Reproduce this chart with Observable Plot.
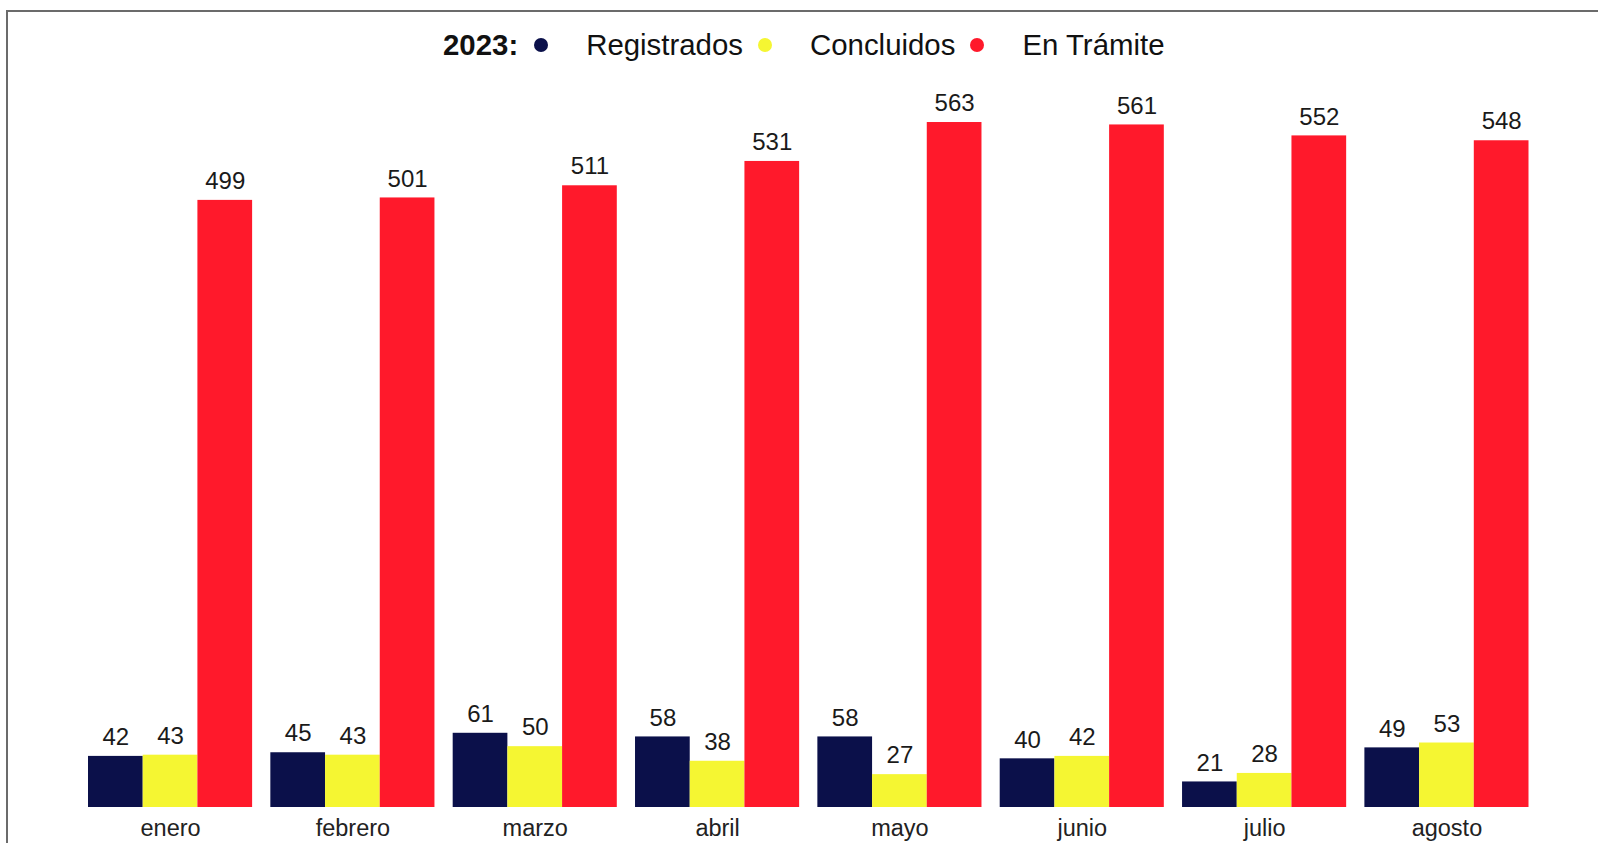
<!DOCTYPE html>
<html>
<head>
<meta charset="utf-8">
<script src="https://cdn.jsdelivr.net/npm/d3@7"></script>
<script src="https://cdn.jsdelivr.net/npm/@observablehq/plot@0.6"></script>
<style>
  html, body { margin: 0; padding: 0; width: 1598px; height: 843px; overflow: hidden; background: #fff; font-family: "Liberation Sans", Arial, sans-serif; }
  #frame { position: absolute; left: 6px; top: 10px; width: 1700px; height: 900px; border: 2px solid #6b6b6b; box-sizing: border-box; }
  #legend { position: absolute; left: 443px; top: 26px; height: 38px; display: flex; align-items: center; font-size: 29.4px; color: #111; white-space: nowrap; }
  #legend .title { font-weight: bold; margin-right: 16px; }
  #legend .dot { width: 14px; height: 14px; border-radius: 50%; display: inline-block; margin-right: 38px; }
  #legend .lab { margin-right: 15px; }
  #chart { position: absolute; left: 0; top: 70px; }
</style>
</head>
<body>
<div id="frame"></div>
<div id="legend"></div>
<div id="chart"></div>
<script>
const year = "2023:";
const months = ["enero", "febrero", "marzo", "abril", "mayo", "junio", "julio", "agosto"];
const series = ["Registrados", "Concluidos", "En Trámite"];
const colors = ["#0b104a", "#f5f632", "#ff192b"];
const registrados = [42, 45, 61, 58, 58, 40, 21, 49];
const concluidos = [43, 43, 50, 38, 27, 42, 28, 53];
const enTramite = [499, 501, 511, 531, 563, 561, 552, 548];

const seriesValues = [registrados, concluidos, enTramite];
const data = [];
months.forEach((m, i) => {
  series.forEach((s, j) => {
    data.push({ month: m, serie: s, value: seriesValues[j][i] });
  });
});

// Legend
const legend = document.getElementById("legend");
const t = document.createElement("span");
t.className = "title";
t.textContent = year;
legend.appendChild(t);
series.forEach((s, j) => {
  const d = document.createElement("span");
  d.className = "dot";
  d.style.background = colors[j];
  legend.appendChild(d);
  const l = document.createElement("span");
  l.className = "lab";
  l.textContent = s;
  legend.appendChild(l);
});

const chart = Plot.plot({
  width: 1598,
  height: 773,
  marginLeft: 88,
  marginRight: 69.5,
  marginTop: 7,
  marginBottom: 36,
  style: { fontFamily: "Liberation Sans, Arial, sans-serif", background: "transparent" },
  fx: { domain: months, paddingInner: 0.1, paddingOuter: 0, round: false, label: null },
  x: { domain: series, padding: 0, round: false, axis: null },
  y: { domain: [0, 600], axis: null },
  color: { domain: series, range: colors },
  marks: [
    Plot.barY(data, { fx: "month", x: "serie", y: "value", fill: "serie" }),
    Plot.text(data, { fx: "month", x: "serie", y: "value", text: d => String(d.value), dy: -19, fontSize: 24, fill: "#1a1a1a" }),
    Plot.axisFx({ anchor: "bottom", tickSize: 0, tickPadding: 12, fontSize: 23.5, label: null, color: "#222" })
  ]
});
document.getElementById("chart").appendChild(chart);
</script>
</body>
</html>
